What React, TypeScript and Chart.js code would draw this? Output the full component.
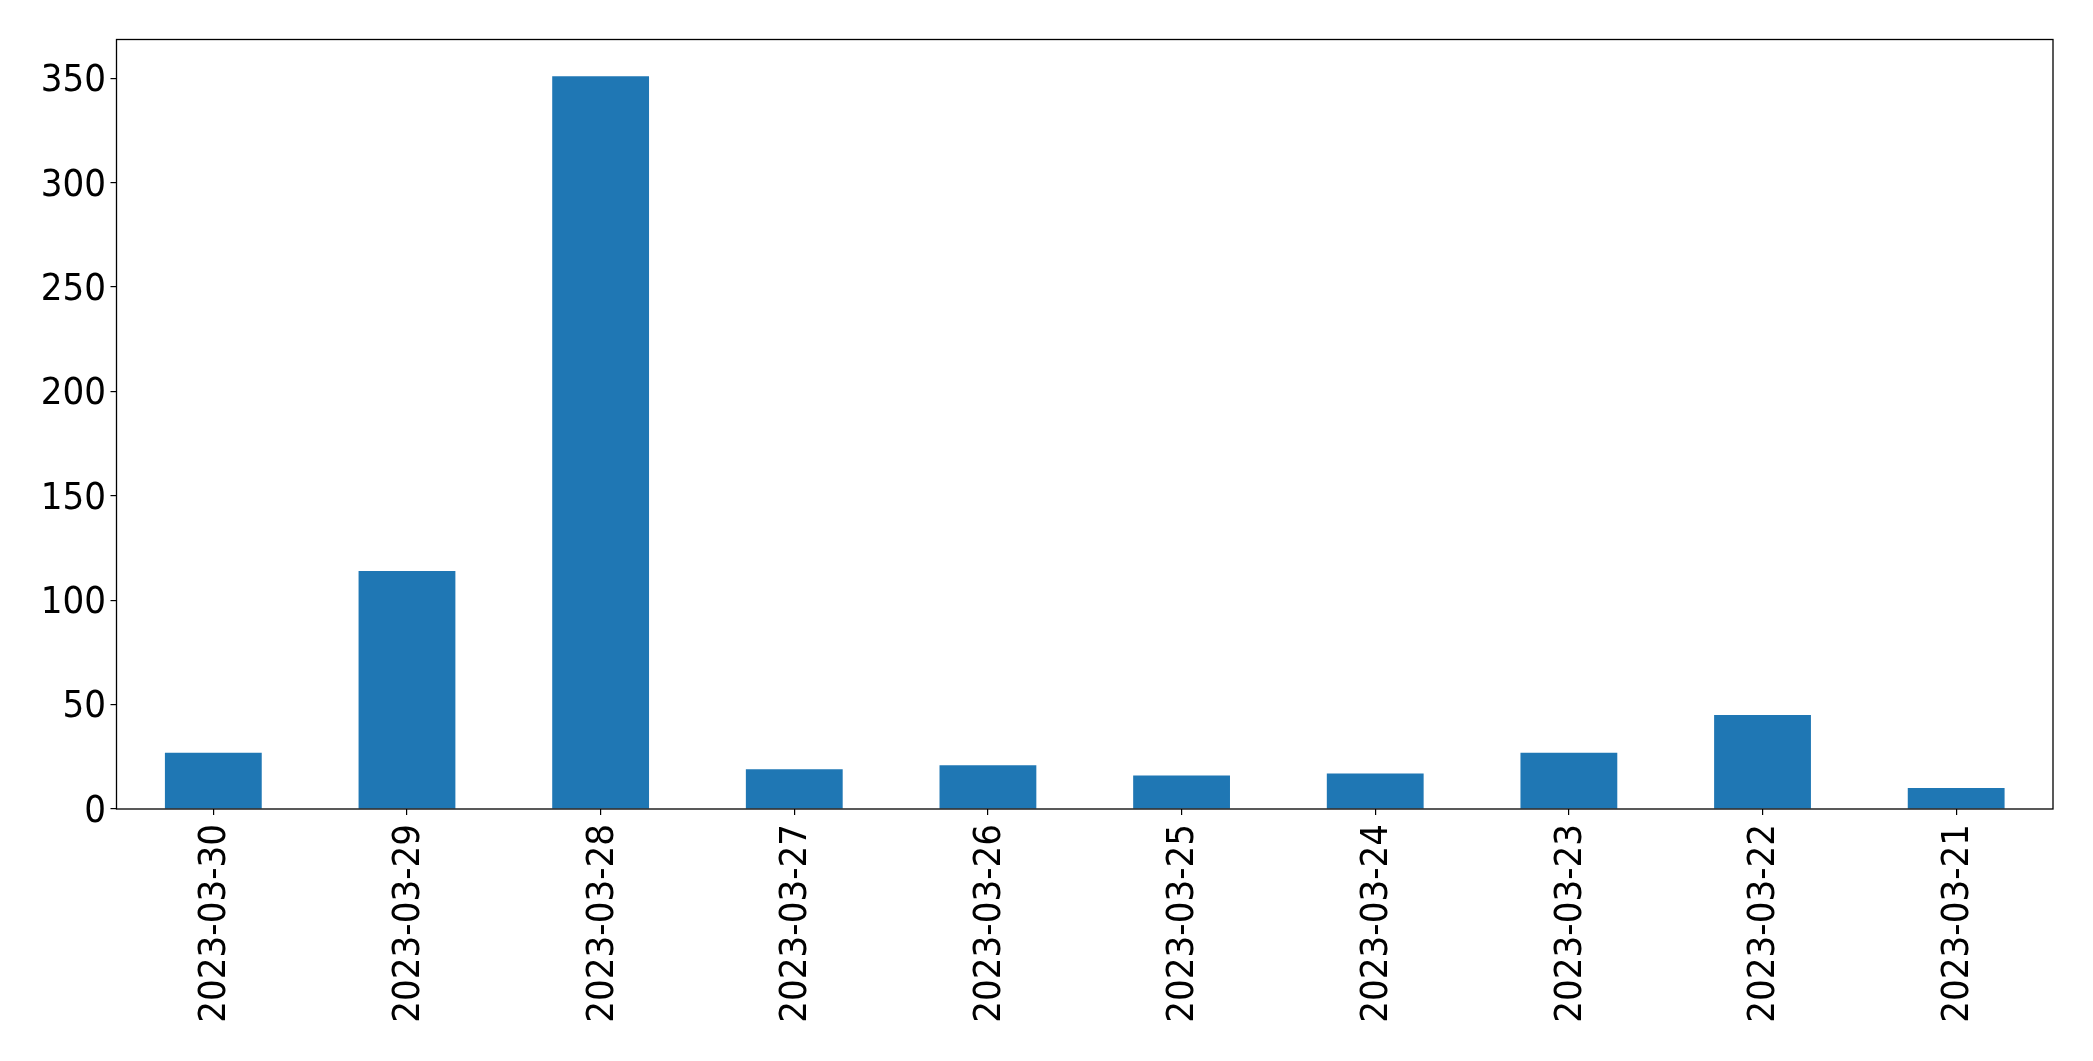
import React, { useEffect, useRef } from "react";
import { Chart, registerables } from "chart.js";

Chart.register(...registerables);

const categories = [
  "2023-03-30",
  "2023-03-29",
  "2023-03-28",
  "2023-03-27",
  "2023-03-26",
  "2023-03-25",
  "2023-03-24",
  "2023-03-23",
  "2023-03-22",
  "2023-03-21",
];
const counts = [27, 114, 351, 19, 21, 16, 17, 27, 45, 10];
const yTicks = [0, 50, 100, 150, 200, 250, 300, 350];

const W = 2093;
const H = 1061;
const FONT = "'DejaVu Sans Condensed', 'DejaVu Sans', sans-serif";

const frame = {
  id: "frame",
  afterDraw(chart: any) {
    const { ctx, chartArea } = chart;
    ctx.save();
    ctx.strokeStyle = "#000";
    ctx.lineWidth = 1.3;
    ctx.strokeRect(chartArea.left, chartArea.top, chartArea.right - chartArea.left, chartArea.bottom - chartArea.top);
    ctx.restore();
  },
};

export default function App() {
  const ref = useRef<HTMLCanvasElement | null>(null);
  useEffect(() => {
    if (!ref.current) return;
    const chart = new Chart(ref.current, {
      type: "bar",
      data: {
        labels: categories,
        datasets: [
          {
            data: counts,
            backgroundColor: "#1f77b4",
            borderWidth: 0,
            categoryPercentage: 1,
            barPercentage: 0.5,
          },
        ],
      },
      options: {
        responsive: false,
        animation: false,
        devicePixelRatio: 1,
        layout: { padding: { left: 0, top: 39.5, right: 40, bottom: 0 } },
        plugins: { legend: { display: false }, tooltip: { enabled: false } },
        scales: {
          x: {
            type: "category",
            offset: true,
            grid: { display: true, drawOnChartArea: false, drawTicks: true, tickLength: 6, color: "#000", lineWidth: 1.2, offset: false },
            border: { display: false },
            ticks: {
              color: "#000",
              font: { family: FONT, size: 38 },
              minRotation: 90,
              maxRotation: 90,
              padding: 9,
              labelOffset: 2,
              autoSkip: false,
            },
            afterFit(scale: any) {
              scale.height = 252;
            },
          },
          y: {
            type: "linear",
            min: 0,
            max: 351 * 1.05,
            grid: { display: true, drawOnChartArea: false, drawTicks: true, tickLength: 6, color: "#000", lineWidth: 1.2 },
            border: { display: false },
            ticks: {
              color: "#000",
              font: { family: FONT, size: 38 },
              padding: 4.5,
              labelOffset: 3,
            },
            afterBuildTicks(scale: any) {
              scale.ticks = yTicks.map((v) => ({ value: v }));
            },
            afterFit(scale: any) {
              scale.width = 116.5;
            },
          },
        },
      },
      plugins: [frame],
    });
    return () => chart.destroy();
  }, []);
  return (
    <div style={{ position: "fixed", left: 0, top: 0, width: W, height: H, background: "#fff" }}>
      <canvas ref={ref} width={W} height={H} style={{ display: "block", width: W, height: H }} />
    </div>
  );
}
